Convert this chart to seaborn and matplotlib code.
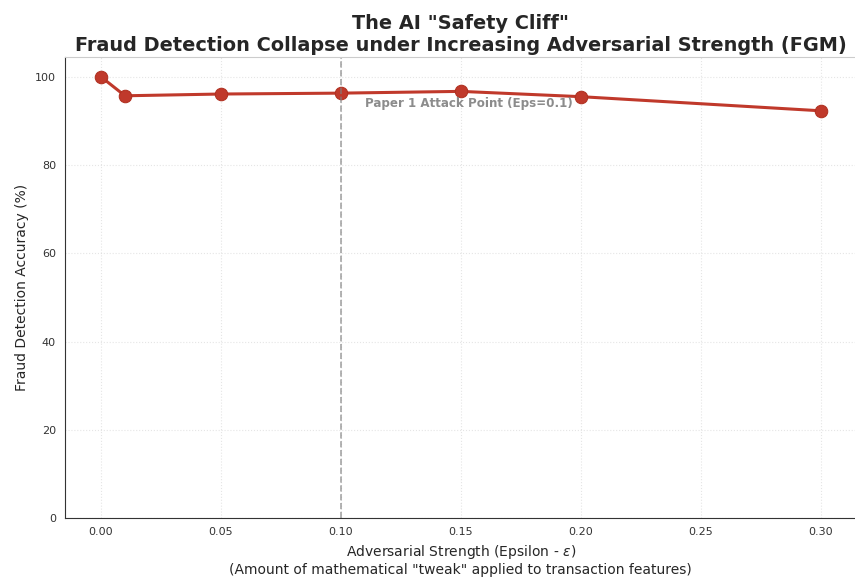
import numpy as np
import pandas as pd
import matplotlib
matplotlib.use("Agg")
import matplotlib.pyplot as plt
import seaborn as sns

# Adversarial strength levels and the measured accuracy
epsilons = [0.0, 0.01, 0.05, 0.10, 0.15, 0.20, 0.30]
accuracy = [100.0, 95.7, 96.1, 96.3, 96.7, 95.5, 92.3]

df = pd.DataFrame({"epsilon": epsilons, "accuracy": accuracy})

sns.set_style("white")
plt.rcParams['font.family'] = ['DejaVu Sans']

fig = plt.figure(figsize=(8.55, 5.81), dpi=100)
ax = fig.add_axes([0.076, 0.108, 0.926, 0.794])

sns.lineplot(data=df, x="epsilon", y="accuracy", ax=ax, color="#c0392b",
             linewidth=2.2, marker="o", markersize=9,
             markeredgecolor="#b03020", markerfacecolor="#c0392b")

# Reference attack point from paper 1
ax.axvline(0.1, color="gray", linestyle="--", linewidth=1.2, alpha=0.7)
ax.text(0.11, 94, "Paper 1 Attack Point (Eps=0.1)", color="gray",
        fontsize=8.6, fontweight="bold", va="center", alpha=0.9)

ax.set_ylim(0, 104.5)
ax.set_xlim(-0.015, 0.315)
ax.set_xticks([0.0, 0.05, 0.10, 0.15, 0.20, 0.25, 0.30])
ax.set_yticks([0, 20, 40, 60, 80, 100])
ax.tick_params(labelsize=8, length=3, labelcolor="#333333")
ax.grid(True, linestyle=":", alpha=0.5)

for side in ["top", "right"]:
    ax.spines[side].set_color("#cccccc")
for side in ["left", "bottom"]:
    ax.spines[side].set_color("#333333")

ax.set_xlabel("Adversarial Strength (Epsilon - $\\epsilon$)\n"
              "(Amount of mathematical \"tweak\" applied to transaction features)",
              fontsize=10)
ax.set_ylabel("Fraud Detection Accuracy (%)", fontsize=10)
ax.set_title("The AI \"Safety Cliff\"\n"
             "Fraud Detection Collapse under Increasing Adversarial Strength (FGM)",
             fontsize=13.9, fontweight="bold", pad=4)

fig.savefig("out.png", dpi=100)
